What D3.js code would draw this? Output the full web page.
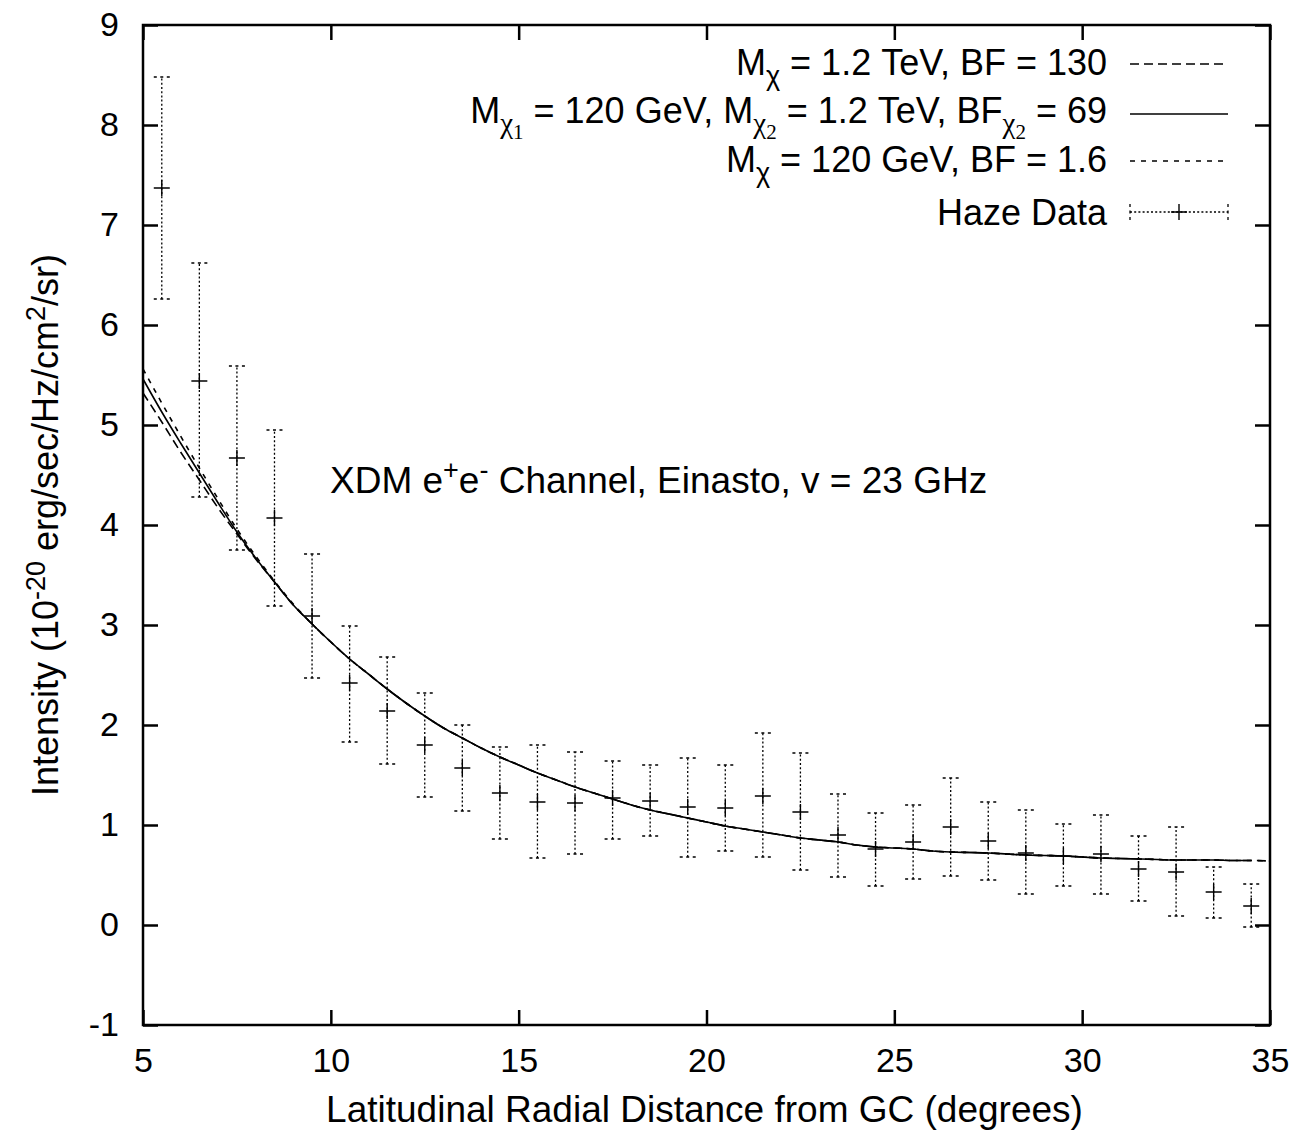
<!DOCTYPE html>
<html>
<head>
<meta charset="utf-8">
<script src="https://cdn.jsdelivr.net/npm/d3@7"></script>
<style>
  body { margin: 0; background: #fff; }
  svg text { font-family: "Liberation Sans", Arial, Helvetica, sans-serif; fill: #000; }
</style>
</head>
<body>
<svg id="chart" width="1295" height="1132"></svg>
<script>
// haze data points: x, value, lower and upper end of the error bar
var hazeX = [5.5, 6.5, 7.5, 8.5, 9.5, 10.5, 11.5, 12.5, 13.5, 14.5,
    15.5, 16.5, 17.5, 18.5, 19.5, 20.5, 21.5, 22.5, 23.5, 24.5,
    25.5, 26.5, 27.5, 28.5, 29.5, 30.5, 31.5, 32.5, 33.5, 34.5];
var hazeY = [7.37, 5.44, 4.67, 4.07, 3.09, 2.42, 2.14, 1.80, 1.57, 1.32,
    1.23, 1.22, 1.27, 1.24, 1.18, 1.17, 1.29, 1.13, 0.90, 0.76,
    0.83, 0.98, 0.84, 0.72, 0.69, 0.71, 0.56, 0.53, 0.33, 0.19];
var hazeLo = [6.26, 4.28, 3.75, 3.19, 2.47, 1.83, 1.61, 1.28, 1.14, 0.86,
    0.67, 0.71, 0.86, 0.89, 0.68, 0.74, 0.68, 0.55, 0.48, 0.39,
    0.46, 0.49, 0.45, 0.31, 0.39, 0.31, 0.24, 0.09, 0.07, -0.02];
var hazeHi = [8.48, 6.62, 5.59, 4.95, 3.71, 2.99, 2.68, 2.32, 2.00, 1.78,
    1.80, 1.73, 1.64, 1.60, 1.67, 1.60, 1.92, 1.72, 1.31, 1.12,
    1.20, 1.47, 1.23, 1.15, 1.01, 1.10, 0.89, 0.98, 0.58, 0.41];

// model curves, sampled every half degree
var curveX = [5, 5.5, 6, 6.5, 7, 7.5, 8, 8.5, 9, 9.5,
    10, 10.5, 11, 11.5, 12, 12.5, 13, 13.5, 14, 14.5,
    15, 15.5, 16, 16.5, 17, 17.5, 18, 18.5, 19, 19.5,
    20, 20.5, 21, 21.5, 22, 22.5, 23, 23.5, 24, 24.5,
    25, 25.5, 26, 26.5, 27, 27.5, 28, 28.5, 29, 29.5,
    30, 30.5, 31, 31.5, 32, 32.5, 33, 33.5, 34, 34.5, 35];
// M_chi1 = 120 GeV, M_chi2 = 1.2 TeV (solid)
var twoState = [5.46, 5.13, 4.82, 4.52, 4.22, 3.93, 3.67, 3.43, 3.20, 3.01,
    2.83, 2.66, 2.51, 2.36, 2.22, 2.09, 1.97, 1.87, 1.77, 1.68,
    1.60, 1.52, 1.45, 1.38, 1.32, 1.26, 1.20, 1.15, 1.11, 1.07,
    1.03, 0.99, 0.96, 0.93, 0.90, 0.87, 0.85, 0.83, 0.80, 0.78,
    0.77, 0.76, 0.74, 0.73, 0.725, 0.72, 0.71, 0.70, 0.695, 0.69,
    0.68, 0.67, 0.665, 0.66, 0.655, 0.65, 0.65, 0.65, 0.645, 0.645, null];
// M_chi = 1.2 TeV, BF = 130 (long dashes)
var heavy = [5.32, 5.03, 4.73, 4.45, 4.17, 3.91, 3.66, 3.43, 3.20, 3.01,
    2.83, 2.66, 2.51, 2.36, 2.22, 2.09, 1.97, 1.87, 1.77, 1.68,
    1.60, 1.52, 1.45, 1.38, 1.32, 1.26, 1.20, 1.15, 1.11, 1.07,
    1.03, 0.99, 0.96, 0.93, 0.90, 0.87, 0.85, 0.83, 0.80, 0.78,
    0.77, 0.76, 0.74, 0.73, 0.725, 0.72, 0.71, 0.70, 0.695, 0.69,
    0.68, 0.67, 0.665, 0.66, 0.655, 0.65, 0.65, 0.65, 0.645, 0.645, 0.64];
// M_chi = 120 GeV, BF = 1.6 (short dashes)
var light = [5.56, 5.22, 4.89, 4.57, 4.26, 3.96, 3.69, 3.44, 3.21, 3.01,
    2.83, 2.66, 2.51, 2.36, 2.22, 2.09, 1.97, 1.87, 1.77, 1.68,
    1.60, 1.52, 1.45, 1.38, 1.32, 1.26, 1.20, 1.15, 1.11, 1.07,
    1.03, 0.99, 0.96, 0.93, 0.90, 0.87, 0.85, 0.83, 0.80, 0.78,
    0.77, 0.76, 0.74, 0.73, 0.725, 0.72, 0.71, 0.70, 0.695, 0.69,
    0.68, 0.67, 0.665, 0.66, 0.655, 0.65, 0.65, 0.65, 0.645, 0.645, 0.64];

var xTicks = [5, 10, 15, 20, 25, 30, 35];
var yTicks = [-1, 0, 1, 2, 3, 4, 5, 6, 7, 8, 9];

// plot frame (window.top is read-only, so no bare "top" here)
var plotLeft = 143, plotRight = 1270, plotTop = 25, plotBottom = 1025;
var tickFont = 34, legendFont = 36, titleFont = 37;

var svg = d3.select('#chart');

var x = d3.scaleLinear().domain([5, 35]).range([plotLeft, plotRight]);
var y = d3.scaleLinear().domain([-1, 9]).range([plotBottom, plotTop]);

svg.append('defs').append('clipPath').attr('id', 'plot-clip')
    .append('rect')
    .attr('x', plotLeft).attr('y', plotTop)
    .attr('width', plotRight - plotLeft).attr('height', plotBottom - plotTop);

// plain hyphen for negatives, like the original
var plainNumber = function(d) { return String(d); };

// axes: ticks point inwards on all four sides
var styleAxis = function(g) {
    g.select('.domain').remove();
    g.selectAll('.tick line').attr('stroke', '#000').attr('stroke-width', 2.5);
    g.selectAll('.tick text')
        .style('font-size', tickFont + 'px')
        .style('font-family', '"Liberation Sans", Arial, sans-serif')
        .attr('fill', '#000');
};

svg.append('g')
    .attr('transform', 'translate(' + plotLeft + ',0)')
    .call(d3.axisLeft(y).tickValues(yTicks).tickSizeInner(-15)
        .tickSizeOuter(0).tickPadding(24).tickFormat(plainNumber))
    .call(styleAxis);

svg.append('g')
    .attr('transform', 'translate(' + plotRight + ',0)')
    .call(d3.axisRight(y).tickValues(yTicks).tickSizeInner(-15)
        .tickSizeOuter(0).tickFormat(''))
    .call(styleAxis);

svg.append('g')
    .attr('transform', 'translate(0,' + plotBottom + ')')
    .call(d3.axisBottom(x).tickValues(xTicks).tickSizeInner(-15)
        .tickSizeOuter(0).tickPadding(23).tickFormat(plainNumber))
    .call(styleAxis);

svg.append('g')
    .attr('transform', 'translate(0,' + plotTop + ')')
    .call(d3.axisTop(x).tickValues(xTicks).tickSizeInner(-15)
        .tickSizeOuter(0).tickFormat(''))
    .call(styleAxis);

svg.append('rect')
    .attr('x', plotLeft).attr('y', plotTop)
    .attr('width', plotRight - plotLeft).attr('height', plotBottom - plotTop)
    .attr('fill', 'none').attr('stroke', '#000').attr('stroke-width', 2.5);

// model curves
var models = [
    { values: heavy, dash: '9,5' },
    { values: twoState, dash: null },
    { values: light, dash: '5,6' }
];

var line = d3.line()
    .defined(function(d) { return d[1] !== null; })
    .x(function(d) { return x(d[0]); })
    .y(function(d) { return y(d[1]); })
    .curve(d3.curveMonotoneX);

var curves = svg.append('g').attr('clip-path', 'url(#plot-clip)');
models.forEach(function(m) {
    curves.append('path')
        .datum(curveX.map(function(cx, i) { return [cx, m.values[i]]; }))
        .attr('d', line)
        .attr('fill', 'none')
        .attr('stroke', '#000')
        .attr('stroke-width', 1.6)
        .attr('stroke-dasharray', m.dash);
});

// haze data with dotted error bars
var haze = hazeX.map(function(hx, i) {
    return { x: hx, y: hazeY[i], lo: hazeLo[i], hi: hazeHi[i] };
});
var cap = 8, arm = 8;

var points = svg.append('g').selectAll('g')
    .data(haze).enter().append('g');

points.append('line')
    .attr('x1', function(d) { return x(d.x); })
    .attr('x2', function(d) { return x(d.x); })
    .attr('y1', function(d) { return y(d.lo); })
    .attr('y2', function(d) { return y(d.hi); })
    .attr('stroke', '#000').attr('stroke-width', 1.3)
    .attr('stroke-dasharray', '2,2.2');

['lo', 'hi'].forEach(function(k) {
    points.append('line')
        .attr('x1', function(d) { return x(d.x) - cap; })
        .attr('x2', function(d) { return x(d.x) + cap; })
        .attr('y1', function(d) { return y(d[k]); })
        .attr('y2', function(d) { return y(d[k]); })
        .attr('stroke', '#000').attr('stroke-width', 1.3)
        .attr('stroke-dasharray', '3,3.5');
});

points.append('path')
    .attr('d', function(d) {
        var px = x(d.x), py = y(d.y);
        return 'M' + (px - arm) + ',' + py + 'H' + (px + arm) +
            'M' + px + ',' + (py - arm) + 'V' + (py + arm);
    })
    .attr('stroke', '#000').attr('stroke-width', 1.4).attr('fill', 'none');

// legend
var legendTextX = 1107, sampleX1 = 1130, sampleX2 = 1228;
var serif = '"Liberation Serif", "Times New Roman", serif';

var addText = function(parent, parts) {
    parts.forEach(function(p) {
        var t = parent.append('tspan').text(p.t);
        if (p.dy) t.attr('dy', p.dy);
        if (p.size) t.style('font-size', p.size + 'px');
        if (p.serif) t.style('font-family', serif);
    });
};

var legendRows = [
    { y: 75, parts: [
        { t: 'M' }, { t: 'χ', dy: 10, size: 27 },
        { t: ' = 1.2 TeV, BF = 130', dy: -10 }] },
    { y: 123, parts: [
        { t: 'M' }, { t: 'χ', dy: 10, size: 29, serif: true },
        { t: '1', dy: 6, size: 21, serif: true },
        { t: ' = 120 GeV, M', dy: -16 }, { t: 'χ', dy: 10, size: 29, serif: true },
        { t: '2', dy: 6, size: 21, serif: true },
        { t: ' = 1.2 TeV, BF', dy: -16 }, { t: 'χ', dy: 10, size: 29, serif: true },
        { t: '2', dy: 6, size: 21, serif: true },
        { t: ' = 69', dy: -16 }] },
    { y: 172, parts: [
        { t: 'M' }, { t: 'χ', dy: 10, size: 27 },
        { t: ' = 120 GeV, BF = 1.6', dy: -10 }] },
    { y: 225, parts: [{ t: 'Haze Data' }] }
];

var legend = svg.append('g');
legendRows.forEach(function(r) {
    var t = legend.append('text')
        .attr('x', legendTextX).attr('y', r.y)
        .attr('text-anchor', 'end')
        .style('font-size', legendFont + 'px');
    addText(t, r.parts);
});

var sampleY = [64, 114, 161];
[models[0], models[1], models[2]].forEach(function(m, i) {
    legend.append('line')
        .attr('x1', sampleX1).attr('x2', sampleX2)
        .attr('y1', sampleY[i]).attr('y2', sampleY[i])
        .attr('stroke', '#000').attr('stroke-width', 1.6)
        .attr('stroke-dasharray', m.dash);
});

var hy = 212, hm = (sampleX1 + sampleX2) / 2;
legend.append('line')
    .attr('x1', sampleX1).attr('x2', sampleX2).attr('y1', hy).attr('y2', hy)
    .attr('stroke', '#000').attr('stroke-width', 1.3).attr('stroke-dasharray', '2,2.2');
[sampleX1, sampleX2].forEach(function(cx) {
    legend.append('line')
        .attr('x1', cx).attr('x2', cx).attr('y1', hy - cap).attr('y2', hy + cap)
        .attr('stroke', '#000').attr('stroke-width', 1.3).attr('stroke-dasharray', '3,3.5');
});
legend.append('path')
    .attr('d', 'M' + (hm - arm) + ',' + hy + 'H' + (hm + arm) +
        'M' + hm + ',' + (hy - arm) + 'V' + (hy + arm))
    .attr('stroke', '#000').attr('stroke-width', 1.4);

// annotation
var note = svg.append('text')
    .attr('x', 330).attr('y', 493)
    .style('font-size', titleFont + 'px');
addText(note, [
    { t: 'XDM e' }, { t: '+', dy: -14, size: 27 },
    { t: 'e', dy: 14 }, { t: '-', dy: -14, size: 27 },
    { t: ' Channel, Einasto, v = 23 GHz', dy: 14 }]);

// axis titles
svg.append('text')
    .attr('x', (plotLeft + plotRight) / 2 - 2).attr('y', 1122)
    .attr('text-anchor', 'middle')
    .style('font-size', titleFont + 'px')
    .text('Latitudinal Radial Distance from GC (degrees)');

var yTitle = svg.append('text')
    .attr('transform', 'translate(58,' + (plotTop + plotBottom) / 2 + ') rotate(-90)')
    .attr('text-anchor', 'middle')
    .style('font-size', legendFont + 'px');
addText(yTitle, [
    { t: 'Intensity (10' }, { t: '-20', dy: -13, size: 27 },
    { t: ' erg/sec/Hz/cm', dy: 13 }, { t: '2', dy: -13, size: 27 },
    { t: '/sr)', dy: 13 }]);
</script>
</body>
</html>
